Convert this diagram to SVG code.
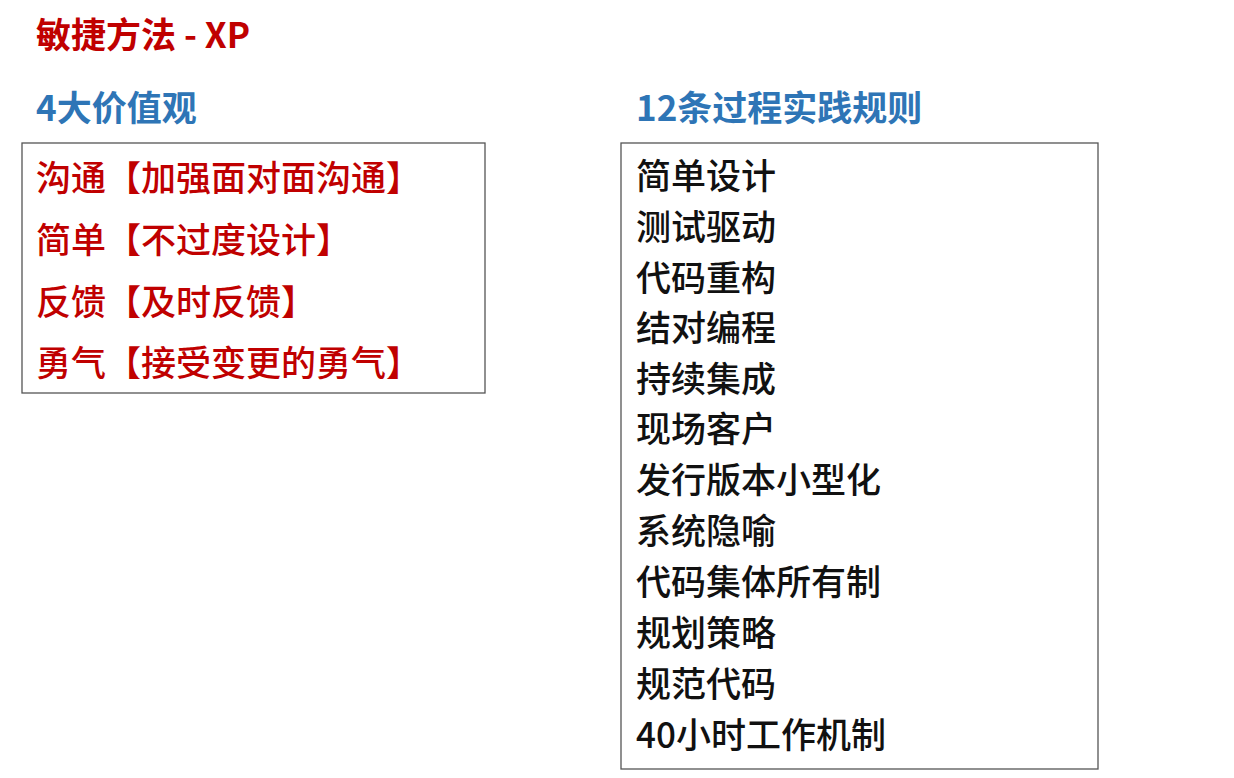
<svg xmlns="http://www.w3.org/2000/svg" width="1234" height="778" viewBox="0 0 1234 778">
<style>
text{font-family:"Noto Sans CJK SC","Noto Sans",sans-serif;font-size:35px}
.t{fill:#c00000;font-weight:bold}
.h{fill:#2e75b6;font-weight:bold}
.r{fill:#c00000;font-weight:500}
.k{fill:#111;font-weight:500}
.box{fill:none;stroke:#555;stroke-width:1.3}
</style>
<rect width="1234" height="778" fill="#fff"/>
<text class="t" x="36" y="48">敏捷方法 - XP</text>
<g id="values">
<text class="h" x="36" y="121">4大价值观</text>
<rect class="box" x="22" y="143" width="463" height="250"/>
<text class="r" x="36" y="191">沟通【加强面对面沟通】</text>
<text class="r" x="36" y="253">简单【不过度设计】</text>
<text class="r" x="36" y="315">反馈【及时反馈】</text>
<text class="r" x="36" y="376">勇气【接受变更的勇气】</text>
</g>
<g id="practices">
<text class="h" x="636" y="121">12条过程实践规则</text>
<rect class="box" x="621" y="143" width="477" height="626"/>
<text class="k" x="636" y="189">简单设计</text>
<text class="k" x="636" y="240">测试驱动</text>
<text class="k" x="636" y="291">代码重构</text>
<text class="k" x="636" y="341">结对编程</text>
<text class="k" x="636" y="392">持续集成</text>
<text class="k" x="636" y="442">现场客户</text>
<text class="k" x="636" y="493">发行版本小型化</text>
<text class="k" x="636" y="544">系统隐喻</text>
<text class="k" x="636" y="595">代码集体所有制</text>
<text class="k" x="636" y="646">规划策略</text>
<text class="k" x="636" y="697">规范代码</text>
<text class="k" x="636" y="748">40小时工作机制</text>
</g>
</svg>
